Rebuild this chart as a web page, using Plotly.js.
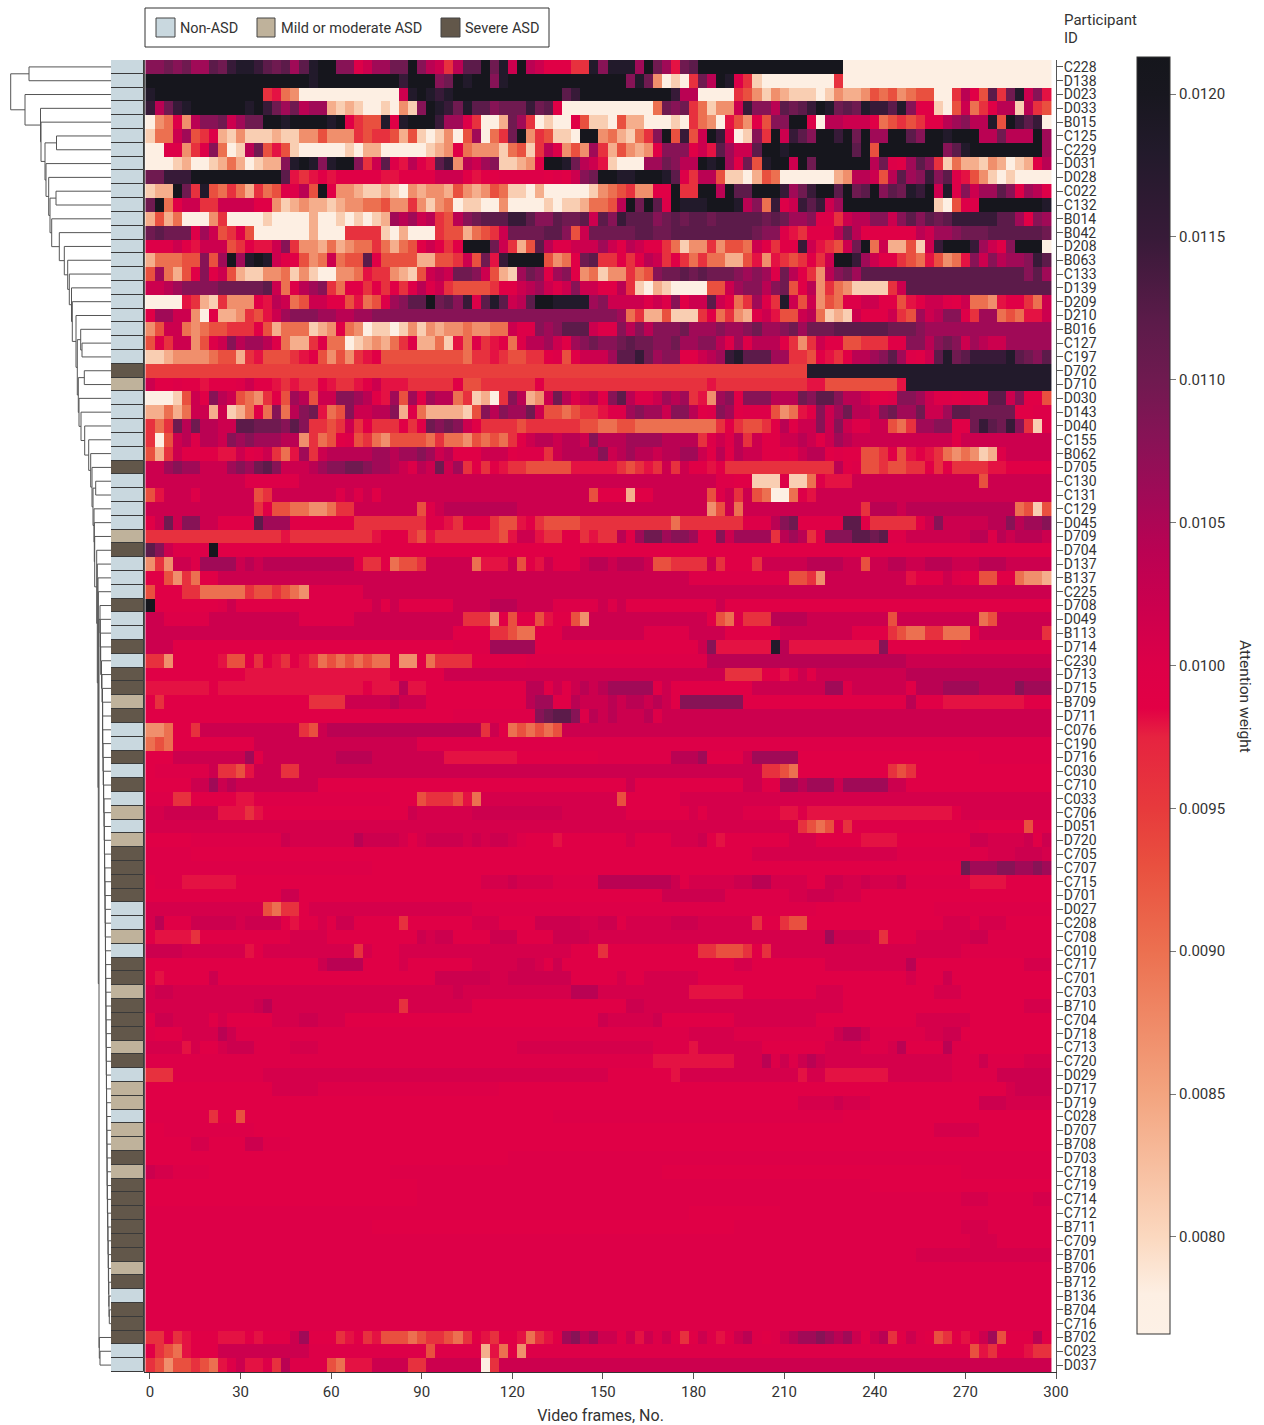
<!DOCTYPE html>
<html>
<head>
<meta charset="utf-8">
<script src="https://cdn.plot.ly/plotly-3.0.1.min.js"></script>
<style>html,body{margin:0;padding:0;background:#fff}</style>
</head>
<body>
<div id="chart" style="width:1264px;height:1425px"></div>
<script>
const participantIds = ["C228","D138","D023","D033","B015","C125","C229","D031","D028","C022","C132","B014","B042","D208","B063","C133","D139","D209","D210","B016","C127","C197","D702","D710","D030","D143","D040","C155","B062","D705","C130","C131","C129","D045","D709","D704","D137","B137","C225","D708","D049","B113","D714","C230","D713","D715","B709","D711","C076","C190","D716","C030","C710","C033","C706","D051","D720","C705","C707","C715","D701","D027","C208","C708","C010","C717","C701","C703","B710","C704","D718","C713","C720","D029","D717","D719","C028","D707","B708","D703","C718","C719","C714","C712","B711","C709","B701","B706","B712","B136","B704","C716","B702","C023","D037"];

// N = Non-ASD, M = Mild or moderate ASD, S = Severe ASD
const participantGroups = "NNNNNNNNNNNNNNNNNNNNNNSMNNNNNSNNNNMSNNNSNNSNSSMSNNSNSNMNMSSSSNNMNSSMSSSMSNMMNMMSMSSSSSSMSNSSSNN";
const groupNames = ["Non-ASD","Mild or moderate ASD","Severe ASD"];
const groupCodes = ["N","M","S"];
const groupColors = ["#c9d8df","#bfb29b","#62574a"];

// attention weight read per cell, as a level letter (optionally with a repeat count)
const levelLetters = "abcdefghijklmnopqrstu";
const levelValues = [0.0078,0.0081,0.0084,0.0087,0.0090,0.0093,0.0096,0.0098,0.0099,0.0100,0.0102,0.0104,0.0106,0.0108,0.0110,0.0112,0.0115,0.0118,0.0121,0.00945,0.0101];

const weightRows = [
"nnonommpoqrrqpopmprssnnjkmmoosnlkglppsorkslkiiiggrnrrrmsomhops16a23",
"s18rs9qs3nosrs2nrs13nrodabagolsrjgba8ga23",
"rs12gheda11krsrqrs12pqs10qlla4gfdbdcbbbabdccdfefdeffaaglifpgorknh",
"qloqrs6rsqomolmmcbcbaabadbnsrqorppnoooqopia10eonogebddkqnnlpopqsroporqqprniibafkegillblgf",
"adejdlnnokmoos2rs4rsigffrirs3qmmjgaacomgabaaifbbafcca3bagedahfdifnnssjallkkkiefgfgiilmnllrfsqpqa",
"beekmfgjcbdbbbcbbddfdddgfggfcfbabdafmaegosdgfbbassdecbegnsfqfksqjabngskqpnssqsosmmsspnssrsssllolllsm",
"a2jjdgjneablofhfba5bacca2a3bcdiedddbefbgljdfdmgcfdcdinnnikhpmkkpssrs7psfs7nprs8m",
"a3bca2bcecabccnrsrnrs2ngkpjhljhpqdlkmnbbcdissrolkhba3mmonllsrsmiofrssksos6lojimpngbeccbdcabcil",
"o2q3s10phghihi5h2iiiikkkihiijjjjjijiknossrrs3rpjgllfbbacfea6cdllkflpmnqnpjhfdbaba4",
"bccsogrfegecgefjjlfsiddcbbcbadcddcfdcdfebbaca5bdefgddiisggsslspps3qmoqs2psopsnporqskrjnkmmpnimlj",
"oseikkggkkkkiidbcdccbcddeefddgdbdeabbaada4babbceeflsospjsrrrsssrlneqjkqpqkms10bafjjs7r",
"cfcea3dga4ba4ca2bababcmlmklgflnopppqqpnnpoopkpnqpppnopoppopppppopommnjjgkllnnknpnpopq5ppminm",
"opooojmkfgjfa6ca3g4baca3gffcefgko4p2nfko2oooppooppppppppponnjhgi3loli6lkmmno3p6o",
"jjjkihkkkfgihhkngddcecdeegecefikigis3okgcfpljjk3mkilkiigebddgdffekigiiqkhgfkosekccfbkqsssqmkins3a",
"ceeeffnfmsmrsrkiifdekeffpiffffccffgkfohqs4fdeiopggigilkgigegeeccfhdhgfgigkssqmkiigfehfdehnknlmmnqp",
"fmecfinikfcbbddebdbaaddehggdcbfklkoonkfcbmonimnidebddgefnoopopooonmnmjoligdlnomp18npm",
"kklmnnnnooooopkejlmngeiigigigjljkgf4giiklmkjknkkiilgbacba4ffkmnnlnofildgedb4gkp16",
"a4hgcbgdddihlkefkkiifhefjmnppsopnqjprpklpssrrrrmnkkkkjkjnikkpkiegmjgrkfkdfejjkkiifhikkjikeedhiigek",
"immkkdaiccdgfhkmnnnmmllmmnnnn24megccfbbbgiegdcjkhffklebcbki3kgfmklnnjgmmefehhk",
"dfkkedeffgggifceeebcdiedabbabdbdcddeddeekjjnmnpppkjjnlnlnnnommmnmmnommnomooop6o3nm14",
"fjgkkdfjknlmmljeccgjeeabcdcegjccebhejghiejllmkimnonnopoonnommnnljmjllligdgkiiffgggiinnlnonkmlkkmmmmmn",
"bbcddddeffcghfffghifdfdghifff7egghgffggijfik3mppqomnniiklmqrpppmmggfihgillmnpmjikpropq4rponp",
"t73r27",
"kiijiihiiijkiihghggihgghikhhhg5if2g6ig18hg4g6h2f8hr16",
"a3bfkinlkfedgifmlfkknnmlihmfmimllegbcagnlcdkoljklinpljjkmlmghdmninnnlllonppnllkiijnnmkjjijjippkniif",
"ccecekkckbceienelnohefnkkllncjeccccbfnlnmmokffefgghjjmnmmknnlijnmijjjfdehinkmollknommokkmppo5iij",
"gegolollkkppooonpnggfgkgigggigiononkig4fg6ffeeffe9gigffgilikknknkjjkkfegmmnniioqpoqngbj",
"gafkljllknmnmmmlldgefijfgedffffegeedfefegikllkllknlllmmmmllllgjkjlgkiikklkikmlk11ik10",
"fcgki4hhkijkgehmgkl5mmlmmnmkliiikkkijjjgkllllnklmllkllmmkililkkiijikllijiiffgifhihgededbcjk5",
"kkmnmmkkkmnmopnkkklmnnoonmmlkjlkokmgigihggf5h5gfghgkgkiihigggg9lijffgffggigig4h2i5",
"k11j6k46j2i2b3jbbejh3k14fk7",
"fhk3jk6fgk7jkjkik23fi3ci2k6fjkgkfea2ejhk26",
"k12gif2e2d2eg2k7fjkl8k21dfkek13gl3kl12efbf",
"ikoknnk2i4pm3i7g8j2hgi3gf2higf4g10eg7j3lnoi5ppig5iknk5l2nlm2n",
"g15hg9hi3gfhg7fhk2hg2i2ghg2limo2mn2mi2nkm4glmlgin3p2opj2k7l2jlkl3k",
"pnkj4si92",
"dgdk2jm4klkl10ig2ief2gk5eh3kfihki3kl2kl3kf2gg3kgi3gk5l4k2fk2l2k2l3k3l3k5",
"i2fdgei2k52j11ffgdk9hi3kji2f2i2eddc",
"fi3g2e5gf2gfedj6k76",
"si7jki6j9kiki6k4l3k4j5kjki10ki36",
"k2j5k10j6k12g3difi2fhi2fdk13ifejg3l4k9fk9efk6",
"k34i4g2fe2i3k9j5k4i6k8i4gfe2gge3ik7g",
"k3i31j4m5i18knh6rlh10ni8j10",
"g2di5hf2igihgihgefefefeeid2ieg4i6j20l22k16",
"i11h16i6k31g4i2hikik10l16",
"h7ih16ih3lh2i11l2ikiklklm5iki9k8m2jk6il3m4l4nm3",
"igi16g4k5lk3i11lm2i2lk3lkl2klkin7i18li3h9i3",
"i34j9nop2njlklk3ljk43",
"d2ei2gk11gfkl17gkiefefefk54",
"efei9k18j70",
"i3k8mik8l4k8h8i9j8l3mi4km5i20j8",
"ij6kg2fhk3g2k51g2fei10gfgi15",
"i5k2mklk9i34ki12k2i2m2lm3km5k2i16",
"j3g2i5h2j15i3fg3fheu15fi6u41",
"u2k6h3ghi16ku6k10u7i7uiu4j4h2jh16iu10",
"u72gfefjgj14i5fj2",
"i5j10ku7lk4uiuk4ukuk2uji3hi7ui4u3kihi7u3i5h4i8k2u4kik",
"j5i62u16j10u3k3u",
"j25i65om3n2m2nm",
"ij3h6i27u3ku4j5l8kiu5k2l2u4i2k2u2ku3kj7h4i5",
"i15k2i40k7j7u2k3u3i21",
"u13feg2iu18j38i13j13",
"uli3k5uk4ihi2uik2i5gi7u3i4k5u2k2iu5k3u6gi2gf2i15u3iu3i5",
"ih4gi10u4i10kuk2i4k3i4k4u26mk4ugi3u6k2j7",
"k4u7hiu10gui3u19i3gi10g2f3gigu21j10",
"i19kl4i4ui7u5k2uiki19u2i8u9li12u3",
"ihi5ki24k6u2k7i5ui2u6i23ui3ki11",
"uk2u31ku12l3u10h6i8u3i10u3i10",
"u12klu14gu7i17k2u22i20u3",
"ik2u4iui5u3k2u3i28ku5ki8u9i11u6i9",
"ji3u4lkj50u5j11kl2kj6u2k2i10",
"u4hui2uk3j4u3j22u15j4hu7i7u4j3uli4lj2i9",
"j56h9u3ljkjklku14j3kj4u3",
"g3j10u38i7hu13hu2h7u7j5k6",
"i14u5j20i56uk4",
"i72u4ku3i12k3u5",
"j7gi2fi34j32i23",
"i2j10i75u5i8",
"i5u2i4k2j3i84",
"i40j60",
"ku2j4i20j30i33j10",
"i30j50i20",
"i30j60u3j5u2",
"j60i10j30",
"j25i40j25u3j7",
"j91u3j6",
"j85u15",
"j100",
"j100",
"j100",
"j100",
"j100",
"g2ighi3h3ihi3kmiiighighfffefggfegihgiiheghimnlmkkikhkjkigikjhikljijklmmnmlmkiklgikjifgihikmfi3lihi",
"igfehi3k10j13fj5cheidj49fhgi3hg2",
"gfdf2gfehjkh2jgljj3feh3k4g2k6agk61"
];

const frameStep = 3;

// dendrogram merges: name, child, child, horizontal position of the join
const treeLinks = [
["T0","A","B",10.7],["A",0,1,29],["B",2,"C",25],["C",3,"D",40.5],["D",4,"E",41],
["E","n56","F",45],["n56",5,6,56.5],["F",7,"G",46],["G",8,"H",48.7],["H","n910","I",50],
["n910",9,10,56],["I",11,"J",51.7],["J",12,"K",59.3],["K",13,"L",64.3],["L",14,"M",67.7],
["M",15,"N",69.3],["N",16,"O",71.5],["O",17,"P",72.3],["P",18,"Q",76],["Q","R","S",77.3],
["R",19,"T",80.7],["T",20,21,82],["S","U","V",78.3],["U",22,23,84.3],["V",24,"W",79],
["W",25,"X",81],["X",26,"Y",84.7],["Y",27,"Z",88.7],["Z",28,"AA",90.7],["AA",29,"c30",92],
["c30","p30","c32",93],["p30",30,31,95.7],["c32",32,"c33",94],["c33",33,"c34",94.3],
["c34",34,"c35",94.7],["c35",35,"c36",96.7],["c36",36,"c37",97.3],["c37",37,"c38",98],
["c38",38,"big",98.3],["big","c39","bot",99],["bot",92,"b93",99.3],["b93",93,94,100]
];
const chainFirstRow = 39;
const chainDepth = [100,100.3,100.5,100.7,101.5,102,102.5,102.7,102.5,102.8,103,103.2,103.5,103.7,104,104.2,104.4,104.5,104.7,104.8,105,105.1,105.3,105.4,105.5,105.6,105.7,105.8,105.9,106,106.1,106.2,106.3,106.4,106.5,106.6,106.7,106.8,106.9,107,107.1,107.2,107.4,107.6,107.8,108,108.2,108.4,108.6,108.8,109,109.3];

const scaleStops = [0.00766,0.0078,0.0080,0.0085,0.0090,0.0093,0.0095,0.00975,0.00985,0.0100,0.0102,0.0104,0.0106,0.0108,0.0110,0.0112,0.0115,0.0118,0.0120,0.01213];
const scaleColors = ["#fdf1e6","#fdefe3","#fbd8bf","#f3a47f","#ec7050","#e9503f","#e73a3c","#e62340","#e20045","#dd0048","#cc004e","#ba0253","#a00a57","#871356","#6f1a50","#5c1b4a","#371a38","#221a2b","#18171f","#15161c"];

const W = 1264, H = 1425;
const FONT = 'Roboto,"Noto Sans",sans-serif';
const INK = "#333";

function decodeRow(code){
  const out = [];
  const re = /([a-u])(\d*)/g;
  let m;
  while ((m = re.exec(code))) {
    const v = levelValues[levelLetters.indexOf(m[1])];
    const n = m[2] ? parseInt(m[2],10) : 1;
    for (let i=0;i<n;i++) out.push(v);
  }
  while (out.length < 100) out.push(out[out.length-1]);
  return out.slice(0,100);
}
const zRows = weightRows.map(decodeRow);
const rowIndex = participantIds.map((_,i)=>i);

// heatmap
const heat = {
  type:"heatmap", z:zRows, x0:0, dx:frameStep, y:rowIndex, xaxis:"x", yaxis:"y",
  zmin:scaleStops[0], zmax:scaleStops[scaleStops.length-1], zsmooth:false,
  colorscale:scaleStops.map((s,i)=>[(s-scaleStops[0])/(scaleStops[scaleStops.length-1]-scaleStops[0]),scaleColors[i]]),
  hovertemplate:"%{y}<br>%{x}: %{z}<extra></extra>",
  colorbar:{
    x:1137/W, xanchor:"left", xpad:0, ypad:0, y:1-57/H, yanchor:"top",
    lenmode:"pixels", len:1277, thicknessmode:"pixels", thickness:33,
    outlinecolor:INK, outlinewidth:1, bordercolor:"rgba(0,0,0,0)",
    tick0:0.008, dtick:0.0005, tickformat:".4f", ticks:"outside", ticklen:6, tickcolor:"#777",
    tickfont:{family:FONT,size:15,color:INK}
  }
};

// group strip
const strip = groupCodes.map((code,g)=>{
  const ys = rowIndex.filter(i=>participantGroups[i]===code);
  return {type:"bar",orientation:"h",x:ys.map(()=>1),y:ys,width:1,name:groupNames[g],
    xaxis:"x2",yaxis:"y2",showlegend:false,hoverinfo:"name",
    marker:{color:groupColors[g],line:{color:"#3a3a3a",width:1}}};
});

// dendrogram
const links = treeLinks.slice();
chainDepth.forEach((d,i)=>{
  const row = chainFirstRow+i;
  const isLast = i===chainDepth.length-1;
  links.push(["c"+row,row,isLast?row+1:"c"+(row+1),d]);
});
const linkMap = {};
links.forEach(l=>{linkMap[l[0]]=l;});
const leafX = 111;
const dx=[],dy=[];
function place(node){
  if (typeof node==="number") return {x:leafX,y:node};
  const l = linkMap[node];
  const a = place(l[1]), b = place(l[2]);
  dx.push(a.x,l[3],l[3],b.x,null);
  dy.push(a.y,a.y,b.y,b.y,null);
  return {x:l[3],y:(a.y+b.y)/2};
}
place("T0");
const tree = {type:"scatter",mode:"lines",x:dx,y:dy,xaxis:"x3",yaxis:"y3",showlegend:false,hoverinfo:"skip",
  line:{color:"#555",width:1}};

const domY = [1-1372/H,1-60/H];
const rowRange = [94.5,-0.5];
const legendBoxes = [[156,175],[257,275],[441,460]];
const legendTextX = [178,279,463];
const shapes = [{type:"rect",xref:"paper",yref:"paper",x0:145/W,x1:549/W,y0:1-47/H,y1:1-8/H,line:{color:INK,width:1},fillcolor:"#fff"}];
legendBoxes.forEach((b,i)=>shapes.push({type:"rect",xref:"paper",yref:"paper",x0:b[0]/W,x1:b[1]/W,y0:1-37/H,y1:1-18/H,line:{color:"#444",width:1},fillcolor:groupColors[i]}));
const annotations = groupNames.map((t,i)=>({xref:"paper",yref:"paper",x:legendTextX[i]/W,y:1-28/H,xanchor:"left",yanchor:"middle",showarrow:false,text:t,font:{family:FONT,size:14.5,color:INK}}));
annotations.push({xref:"paper",yref:"paper",x:1062/W,y:1-20/H,xanchor:"left",yanchor:"middle",showarrow:false,text:"Participant",font:{family:FONT,size:15,color:INK}});
annotations.push({xref:"paper",yref:"paper",x:1062/W,y:1-38/H,xanchor:"left",yanchor:"middle",showarrow:false,text:"ID",font:{family:FONT,size:15,color:INK}});
annotations.push({xref:"paper",yref:"paper",x:1245/W,y:1-696/H,xanchor:"center",yanchor:"middle",showarrow:false,textangle:90,text:"Attention weight",font:{family:FONT,size:15.5,color:INK}});

const layout = {
  width:W,height:H,paper_bgcolor:"#fff",plot_bgcolor:"#fff",
  margin:{l:0,r:0,t:0,b:0,autoexpand:false},
  barmode:"overlay",bargap:0,showlegend:false,
  font:{family:FONT,size:15,color:INK},
  xaxis:{domain:[145/W,1056/W],range:[-1.65,300],tick0:0,dtick:30,ticks:"outside",ticklen:6,tickcolor:"#555",
    showgrid:false,zeroline:false,showline:true,linecolor:"#333",linewidth:1,anchor:"y",
    tickfont:{family:FONT,size:15,color:INK},
    title:{text:"Video frames, No.",font:{family:FONT,size:16,color:INK},standoff:12}},
  yaxis:{domain:domY,range:rowRange,side:"right",anchor:"x",tickmode:"array",tickvals:rowIndex,ticktext:participantIds,
    ticks:"outside",ticklen:6,tickcolor:"#555",ticklabelstandoff:-2,showgrid:false,zeroline:false,showline:true,linecolor:"#555",linewidth:1,mirror:true,
    tickfont:{family:FONT,size:14,color:INK}},
  xaxis2:{domain:[111/W,144/W],range:[0,1],visible:false,anchor:"y2",fixedrange:true},
  yaxis2:{domain:domY,range:rowRange,visible:false,anchor:"x2",fixedrange:true},
  xaxis3:{domain:[0,111/W],range:[0,111],visible:false,anchor:"y3",fixedrange:true},
  yaxis3:{domain:domY,range:rowRange,visible:false,anchor:"x3",fixedrange:true},
  shapes:shapes,annotations:annotations
};
Plotly.newPlot("chart",[heat,...strip,tree],layout,{displayModeBar:false,responsive:false});
</script>
</body>
</html>
